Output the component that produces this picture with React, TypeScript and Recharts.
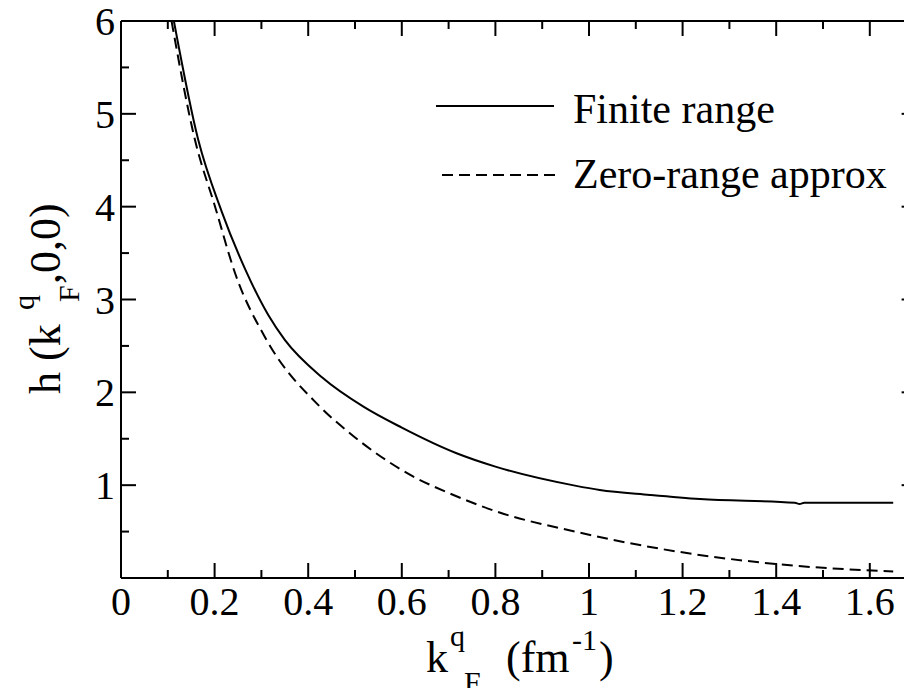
import React from 'react';
import { LineChart, Line, XAxis, YAxis, Label } from 'recharts';

// k_F^q (fm^-1) and h(k_F^q,0,0)
const finiteX = [0.113, 0.165, 0.215, 0.265, 0.315, 0.35, 0.43, 0.518, 0.6, 0.717, 0.8, 0.97, 1.023, 1.13, 1.237, 1.44, 1.45, 1.46, 1.65];
const finiteY = [6.0, 4.72, 3.95, 3.33, 2.83, 2.565, 2.16, 1.846, 1.62, 1.344, 1.2, 0.995, 0.948, 0.895, 0.85, 0.81, 0.797, 0.81, 0.81];

const zeroX = [0.108, 0.158, 0.201, 0.244, 0.311, 0.425, 0.489, 0.622, 0.703, 0.8, 0.97, 1.158, 1.4, 1.65];
const zeroY = [6.0, 4.72, 4.0, 3.28, 2.565, 1.846, 1.56, 1.1, 0.91, 0.72, 0.5, 0.31, 0.15, 0.07];

const seriesNames = ['Finite range', 'Zero-range approx'];

const xTicks = [0, 0.1, 0.2, 0.3, 0.4, 0.5, 0.6, 0.7, 0.8, 0.9, 1, 1.1, 1.2, 1.3, 1.4, 1.5, 1.6, 1.7];
const xMajor = [0, 0.2, 0.4, 0.6, 0.8, 1, 1.2, 1.4, 1.6];
const xLabels = ['0', '0.2', '0.4', '0.6', '0.8', '1', '1.2', '1.4', '1.6'];

const yTicks = [0.5, 1, 1.5, 2, 2.5, 3, 3.5, 4, 4.5, 5, 5.5, 6];
const yMajor = [1, 2, 3, 4, 5, 6];
const yLabels = ['1', '2', '3', '4', '5', '6'];

const finiteData = finiteX.map((x, i) => ({ x, y: finiteY[i] }));
const zeroData = zeroX.map((x, i) => ({ x, y: zeroY[i] }));

const serif = { fontFamily: '"Liberation Serif", "Times New Roman", serif' };
const MAJOR = 15;
const MINOR = 8;

const majorIndex = (list: number[], v: number) => list.findIndex((m) => Math.abs(m - v) < 1e-6);

// ticks point inward, like the original frame
const makeTick = (side: 'bottom' | 'top' | 'left' | 'right') => (props: any) => {
  const { x, y, payload } = props;
  const v = payload.value;
  const idx = majorIndex(side === 'bottom' || side === 'top' ? xMajor : yMajor, v);
  const len = idx >= 0 ? MAJOR : MINOR;
  let x2 = x;
  let y2 = y;
  if (side === 'bottom') y2 = y - len;
  if (side === 'top') y2 = y + len;
  if (side === 'left') x2 = x + len;
  if (side === 'right') x2 = x - len;
  return (
    <g>
      <line x1={x} y1={y} x2={x2} y2={y2} stroke="#000" strokeWidth={2} />
      {side === 'bottom' && idx >= 0 && (
        <text x={x} y={y + 37} textAnchor="middle" fontSize={40} style={serif} fill="#000">
          {xLabels[idx]}
        </text>
      )}
      {side === 'left' && idx >= 0 && (
        <text x={x - 6} y={y + 14} textAnchor="end" fontSize={40} style={serif} fill="#000">
          {yLabels[idx]}
        </text>
      )}
    </g>
  );
};

const XTitle = () => (
  <text fontSize={44} style={serif} fill="#000">
    <tspan x={426} y={672}>k</tspan>
    <tspan x={450} y={646} fontSize={30}>q</tspan>
    <tspan x={464} y={692} fontSize={30}>F</tspan>
    <tspan x={506} y={672}>(fm</tspan>
    <tspan x={572} y={650} fontSize={30}>-1</tspan>
    <tspan x={599} y={672}>)</tspan>
  </text>
);

const YTitle = () => (
  <text transform="rotate(-90)" fontSize={44} style={serif} fill="#000">
    <tspan x={-394} y={60}>h (k</tspan>
    <tspan x={-310} y={34} fontSize={30}>q</tspan>
    <tspan x={-302} y={79} fontSize={30}>F</tspan>
    <tspan x={-284} y={60}>,0,0)</tspan>
  </text>
);

const LegendBox = () => (
  <g>
    <line x1={436} y1={106} x2={554} y2={106} stroke="#000" strokeWidth={2} />
    <text x={573} y={123} fontSize={42} style={serif} fill="#000">{seriesNames[0]}</text>
    <line x1={442} y1={175} x2={560} y2={175} stroke="#000" strokeWidth={2} strokeDasharray="11 6" />
    <text x={573} y={188} fontSize={42} style={serif} fill="#000">{seriesNames[1]}</text>
  </g>
);

export default function App() {
  return (
    <div style={{ position: 'absolute', left: 0, top: 0, width: 904, height: 688, overflow: 'hidden', background: '#fff' }}>
      <LineChart width={940} height={688} margin={{ top: 0, right: 0, bottom: 0, left: 0 }}>
        <XAxis
          dataKey="x"
          type="number"
          domain={[0, 1.7]}
          ticks={xTicks}
          interval={0}
          tickSize={0}
          tickMargin={0}
          tickLine={false}
          tick={makeTick('bottom')}
          axisLine={{ stroke: '#000', strokeWidth: 2 }}
          height={110}
          allowDataOverflow
        >
          <Label content={() => <XTitle />} />
        </XAxis>
        <XAxis
          xAxisId="top"
          orientation="top"
          dataKey="x"
          type="number"
          domain={[0, 1.7]}
          ticks={xTicks}
          interval={0}
          tickSize={0}
          tickMargin={0}
          tickLine={false}
          tick={makeTick('top')}
          axisLine={{ stroke: '#000', strokeWidth: 2 }}
          height={21}
          allowDataOverflow
        >
          <Label content={() => <LegendBox />} />
        </XAxis>
        <YAxis
          type="number"
          domain={[0, 6]}
          ticks={yTicks}
          interval={0}
          tickSize={0}
          tickMargin={0}
          tickLine={false}
          tick={makeTick('left')}
          axisLine={{ stroke: '#000', strokeWidth: 2 }}
          width={121}
          allowDataOverflow
        >
          <Label content={() => <YTitle />} />
        </YAxis>
        <YAxis
          yAxisId="right"
          orientation="right"
          type="number"
          domain={[0, 6]}
          ticks={yTicks}
          interval={0}
          tickSize={0}
          tickMargin={0}
          tickLine={false}
          tick={makeTick('right')}
          axisLine={{ stroke: '#000', strokeWidth: 2 }}
          width={23.4}
          allowDataOverflow
        />
        <Line
          data={finiteData}
          dataKey="y"
          name={seriesNames[0]}
          type="monotone"
          stroke="#000"
          strokeWidth={2}
          dot={false}
          isAnimationActive={false}
        />
        <Line
          data={zeroData}
          dataKey="y"
          name={seriesNames[1]}
          type="monotone"
          stroke="#000"
          strokeWidth={2}
          strokeDasharray="11 6"
          dot={false}
          isAnimationActive={false}
        />
      </LineChart>
    </div>
  );
}
